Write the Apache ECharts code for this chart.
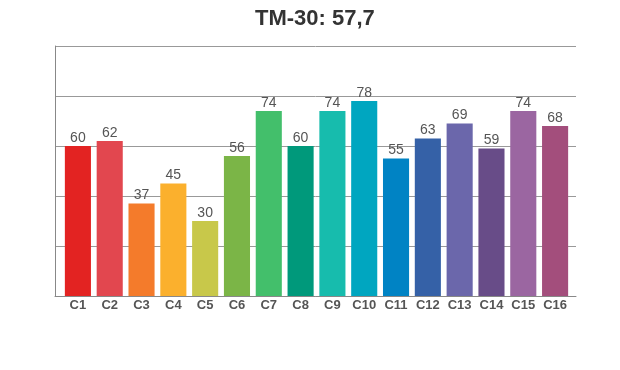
<!DOCTYPE html>
<html><head><meta charset="utf-8">
<script src="https://cdn.jsdelivr.net/npm/echarts@6/dist/echarts.min.js"></script>
<style>html,body{margin:0;padding:0;background:#fff}#c{width:620px;height:370px}</style>
</head><body><div id="c"></div>
<script>
const categories = ['C1','C2','C3','C4','C5','C6','C7','C8','C9','C10','C11','C12','C13','C14','C15','C16'];
const values = [60,62,37,45,30,56,74,60,74,78,55,63,69,59,74,68];
const colors = ['#e32322','#e2474f','#f47b2b','#fbb02d','#c8c84a','#7bb547','#43bf6b','#00997b','#17bcad','#00a6c0','#0083c4','#3561a7','#6b67ab','#684c88','#9b66a1','#a34e7c'];
const titleText = 'TM-30: 57,7';

const chart = echarts.init(document.getElementById('c'));
chart.setOption({
  animation: false,
  title: {text: titleText, left: 250, top: 3,
    textStyle: {fontFamily: 'Liberation Sans, Arial', fontWeight: 'bold', fontSize: 22, color: '#333'}},
  grid: [
    {left: 55, right: 44, top: 46, bottom: 74},
    {left: 62, right: 49, top: 46, bottom: 74}
  ],
  xAxis: [
    {gridIndex: 0, type: 'value', min: 0, max: 1, show: true,
      axisLine: {show: true, onZero: false, lineStyle: {color: '#888', width: 1}},
      axisTick: {show: false}, axisLabel: {show: false}, splitLine: {show: false}},
    {gridIndex: 1, type: 'category', data: categories,
      axisLine: {show: false},
      axisTick: {show: false},
      axisLabel: {margin: 3, fontFamily: 'Liberation Sans, Arial', fontWeight: 'bold', fontSize: 13, color: '#555', interval: 0}}
  ],
  yAxis: [
    {gridIndex: 0, type: 'value', min: 0, max: 100, interval: 20,
      axisLine: {show: true, lineStyle: {color: '#888', width: 1}},
      axisTick: {show: false}, axisLabel: {show: false},
      splitLine: {lineStyle: {color: '#999', width: 1}}},
    {gridIndex: 1, type: 'value', min: 0, max: 100, interval: 20, show: false}
  ],
  series: [{type: 'bar', xAxisIndex: 1, yAxisIndex: 1, barCategoryGap: '18%',
    data: values.map((v, i) => ({value: v, itemStyle: {color: colors[i]}})),
    label: {show: true, position: 'top', distance: 1,
      fontFamily: 'Liberation Sans, Arial', fontSize: 14, color: '#555'}}]
});
</script></body></html>
